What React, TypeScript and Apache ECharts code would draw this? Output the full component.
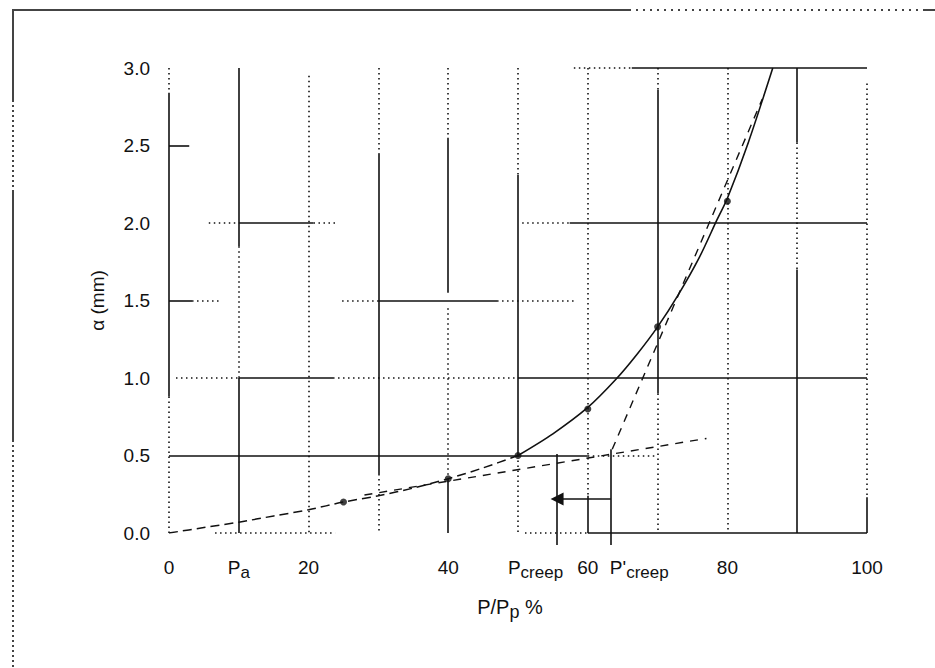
import React, { useEffect, useRef } from "react";
import * as echarts from "echarts";

// Measured creep curve (P/Pp %, alpha mm)
const curveX = [0, 5, 10, 15, 20, 25, 30, 35, 40, 45, 50, 55, 60, 64, 67, 70, 73, 76, 78.5, 80, 83, 86.5];
const curveY = [0, 0.035, 0.07, 0.11, 0.15, 0.2, 0.24, 0.29, 0.35, 0.42, 0.5, 0.64, 0.81, 0.99, 1.15, 1.33, 1.54, 1.78, 2.02, 2.16, 2.52, 3.0];
const dashedUntil = 10; // index where the curve turns solid

// Measured points
const markerX = [25, 40, 50, 60, 70, 80];
const markerY = [0.2, 0.35, 0.5, 0.8, 1.33, 2.14];

// Tangent (construction) lines
const lowTangentX = [28, 77];
const lowTangentY = [0.245, 0.61];
const steepTangentX = [63.5, 85];
const steepTangentY = [0.54, 2.8];

// Creep loads
const pCreep = 55.6;
const pCreepPrime = 63.3;
const pCreepTop = 0.51;
const pCreepPrimeTop = 0.54;
const creepBottom = -0.077;
const arrowLevel = 0.22;

// Tick labels
const xTickValues = [0, 10, 20, 40, 60, 80, 100];
const xSpecial: Record<number, string> = { 10: "{p|P}{s|a}" };

// Scanned grid line segments [x1, y1, x2, y2]
const solidGrid = [
  [0, 2.84, 0, 0.88],
  [10, 3, 10, 1.85], [10, 1.0, 10, 0],
  [30, 2.45, 30, 0.38],
  [40, 2.55, 40, 1.55], [40, 0.35, 40, 0],
  [50, 2.31, 50, 0.5],
  [60, 0.24, 60, 0],
  [70, 2.86, 70, 0.9],
  [90, 3, 90, 2.52], [90, 1.7, 90, 0],
  [100, 0.23, 100, 0],
  [66.3, 3, 100, 3],
  [0, 2.5, 2.9, 2.5],
  [10, 2, 20.7, 2], [57.4, 2, 100, 2],
  [0, 1.5, 3.3, 1.5], [30, 1.5, 47, 1.5],
  [10, 1, 23.5, 1], [50, 1, 100, 1],
  [0, 0.5, 60, 0.5],
  [60, 0, 100, 0],
];
const dottedGrid = [
  [0, 3, 0, 2.84], [0, 0.88, 0, 0],
  [10, 1.85, 10, 1.0],
  [20, 2.95, 20, 0],
  [30, 3, 30, 2.45], [30, 0.38, 30, 0],
  [40, 3, 40, 2.55], [40, 1.45, 40, 0.35],
  [50, 3, 50, 2.31], [50, 0.5, 50, 0],
  [60, 3, 60, 0.24],
  [70, 3, 70, 2.86], [70, 0.9, 70, 0],
  [80, 3, 80, 0],
  [90, 2.52, 90, 1.7],
  [100, 2.9, 100, 0.23],
  [58, 3, 66.3, 3],
  [5.7, 2, 10, 2], [20.7, 2, 24, 2], [50.6, 2, 57.4, 2],
  [3.3, 1.5, 7.3, 1.5], [24.8, 1.5, 30, 1.5], [47, 1.5, 58, 1.5],
  [1, 1, 10, 1], [23.5, 1, 50, 1],
  [60, 0.5, 70, 0.5],
  [6.6, 0, 23.8, 0], [51, 0, 60, 0],
];

const FONT = "'Liberation Sans', Arial, Helvetica, sans-serif";
const INK = "#111";

const rich = {
  p: { fontSize: 19, fontFamily: FONT, color: INK, lineHeight: 24 },
  s: { fontSize: 17, fontFamily: FONT, color: INK, lineHeight: 14, padding: [10, 0, 0, 0] },
};
const nameRich = {
  p: { fontSize: 20, fontFamily: FONT, color: INK, lineHeight: 24 },
  s: { fontSize: 18, fontFamily: FONT, color: INK, lineHeight: 14, padding: [10, 0, 0, 0] },
};

const seg = (s: number[]) => ({ coords: [[s[0], s[1]], [s[2], s[3]]] });

export default function App() {
  const ref = useRef<HTMLDivElement>(null);
  useEffect(() => {
    const chart = echarts.init(ref.current!, null, { renderer: "svg" });
    const curve = curveX.map((x, i) => [x, curveY[i]]);
    chart.setOption({
      animation: false,
      backgroundColor: "#fff",
      grid: { left: 169, right: 68, top: 68, bottom: 135 },
      xAxis: {
        type: "value",
        min: 0,
        max: 100,
        interval: 10,
        axisLine: { show: false },
        axisTick: { show: false },
        splitLine: { show: false },
        axisLabel: {
          customValues: xTickValues,
          margin: 22,
          fontSize: 19,
          fontFamily: FONT,
          color: INK,
          lineHeight: 24,
          formatter: (v: number) => xSpecial[v] ?? `{p|${v}}`,
          rich,
        },
        name: "{p|P/P}{s|p}{p| %}",
        nameLocation: "middle",
        nameGap: 62,
        nameTextStyle: { rich: nameRich, padding: [0, 16, 0, 0] },
      },
      yAxis: {
        type: "value",
        min: 0,
        max: 3,
        interval: 0.5,
        axisLine: { show: false },
        axisTick: { show: false },
        splitLine: { show: false },
        axisLabel: {
          margin: 19,
          fontSize: 19,
          fontFamily: FONT,
          color: INK,
          formatter: (v: number) => v.toFixed(1),
        },
        name: "α (mm)",
        nameLocation: "middle",
        nameGap: 62,
        nameTextStyle: { fontSize: 19, fontFamily: FONT, color: INK },
      },
      series: [
        {
          type: "lines",
          coordinateSystem: "cartesian2d",
          silent: true,
          clip: false,
          data: solidGrid.map(seg),
          lineStyle: { color: INK, width: 1.6, type: "solid", opacity: 1 },
          z: 1,
        },
        {
          type: "lines",
          coordinateSystem: "cartesian2d",
          silent: true,
          clip: false,
          data: dottedGrid.map(seg),
          lineStyle: { color: INK, width: 1.6, type: [1.5, 3.5], opacity: 1 },
          z: 1,
        },
        {
          type: "line",
          data: curve.slice(0, dashedUntil + 1),
          smooth: 0.3,
          showSymbol: false,
          silent: true,
          lineStyle: { color: INK, width: 1.5, type: [9, 5] },
          z: 3,
        },
        {
          type: "line",
          data: curve.slice(dashedUntil),
          smooth: 0.3,
          showSymbol: false,
          silent: true,
          lineStyle: { color: INK, width: 1.6, type: "solid" },
          z: 3,
        },
        {
          type: "scatter",
          data: markerX.map((x, i) => [x, markerY[i]]),
          symbol: "circle",
          symbolSize: 7,
          itemStyle: { color: INK },
          silent: true,
          z: 4,
        },
        {
          type: "lines",
          coordinateSystem: "cartesian2d",
          silent: true,
          data: [
            { coords: lowTangentX.map((x, i) => [x, lowTangentY[i]]) },
            { coords: steepTangentX.map((x, i) => [x, steepTangentY[i]]) },
          ],
          lineStyle: { color: INK, width: 1.4, type: [8, 7], opacity: 1 },
          z: 2,
        },
        {
          type: "lines",
          coordinateSystem: "cartesian2d",
          silent: true,
          clip: false,
          data: [
            { coords: [[pCreep, pCreepTop], [pCreep, creepBottom]] },
            { coords: [[pCreepPrime, pCreepPrimeTop], [pCreepPrime, creepBottom]] },
          ],
          lineStyle: { color: INK, width: 1.6, type: "solid", opacity: 1 },
          z: 2,
        },
        {
          type: "lines",
          coordinateSystem: "cartesian2d",
          silent: true,
          symbol: ["none", "triangle"],
          symbolSize: 13,
          data: [{ coords: [[pCreepPrime, arrowLevel], [pCreep, arrowLevel]] }],
          lineStyle: { color: INK, width: 1.6, type: "solid", opacity: 1 },
          z: 2,
        },
        {
          type: "scatter",
          symbolSize: 0,
          silent: true,
          clip: false,
          itemStyle: { color: INK },
          data: [
            {
              value: [pCreep, 0],
              label: { formatter: "{p|P}{s|creep}", align: "right", offset: [6, 0] },
            },
            {
              value: [pCreepPrime, 0],
              label: { formatter: "{p|P'}{s|creep}", align: "left", offset: [-1, 0] },
            },
          ],
          label: { show: true, position: "bottom", distance: 22, color: INK, opacity: 1, rich },
          z: 5,
        },
      ],
      graphic: [
        { type: "line", shape: { x1: 13, y1: 10, x2: 629, y2: 10 }, style: { stroke: "#444", lineWidth: 2 } },
        { type: "line", shape: { x1: 629, y1: 10, x2: 925, y2: 10 }, style: { stroke: "#444", lineWidth: 2, lineDash: [2, 5] } },
        { type: "line", shape: { x1: 925, y1: 10, x2: 935, y2: 10 }, style: { stroke: "#444", lineWidth: 2 } },
        { type: "line", shape: { x1: 13, y1: 9, x2: 13, y2: 100 }, style: { stroke: "#444", lineWidth: 2 } },
        { type: "line", shape: { x1: 13, y1: 100, x2: 13, y2: 190 }, style: { stroke: "#444", lineWidth: 2, lineDash: [2, 3] } },
        { type: "line", shape: { x1: 13, y1: 190, x2: 13, y2: 440 }, style: { stroke: "#444", lineWidth: 2 } },
        { type: "line", shape: { x1: 13, y1: 440, x2: 13, y2: 668 }, style: { stroke: "#444", lineWidth: 2, lineDash: [2, 3] } },
      ],
    });
    return () => chart.dispose();
  }, []);
  return (
    <div
      ref={ref}
      style={{ position: "fixed", left: 0, top: 0, width: 935, height: 668, background: "#fff" }}
    />
  );
}
